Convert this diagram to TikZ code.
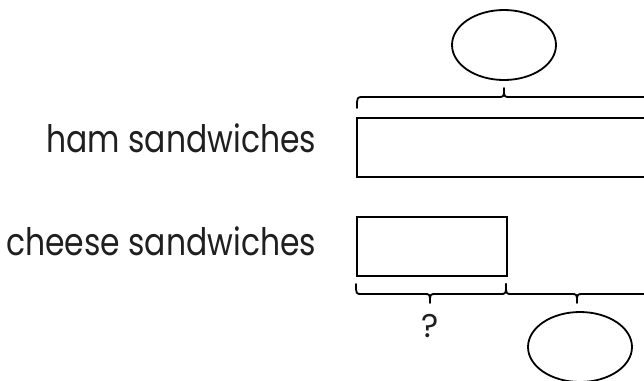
\documentclass[tikz,border=0pt]{standalone}
\usepackage{fontspec}
\setmainfont{Poppins}
\usetikzlibrary{shapes.geometric}
\newcommand{\narrowtext}[1]{\scalebox{0.83}[1]{#1}}
\begin{document}
\begin{tikzpicture}[x=1bp,y=-1bp,
  line width=1.8bp,
  oval/.style={draw, ellipse, minimum width=104bp, minimum height=70bp, inner sep=0pt},
  bar/.style={draw, rectangle, inner sep=0pt, anchor=north west},
  lbl/.style={anchor=base east, inner sep=0pt, font=\fontsize{38}{42}\selectfont, text=black!88},
  brc/.style={line cap=round, line join=round}]
\useasboundingbox (0,0) rectangle (644,380);
\clip (0,0) rectangle (644,380);
% top
\node[oval] (top) at (504,45) {};
\coordinate (t1) at (357,108);
\coordinate (t2) at (651,108);
\draw[brc] (t1) .. controls (357,97) .. (363,97) -- (498,97)
  .. controls (504,97) .. (504,88) .. controls (504,97) .. (510,97) -- (645,97)
  .. controls (651,97) .. (t2);
\node[bar, minimum width=310bp, minimum height=59bp] (ham) at (356,117) {};
\node[lbl] (hamlbl) at (317,152) {\narrowtext{ham sandwiches}};
% bottom
\node[bar, minimum width=150bp, minimum height=59bp] (cheese) at (356,216) {};
\node[lbl] (cheeselbl) at (317,255) {\narrowtext{cheese sandwiches}};
\coordinate (b1) at (356,284);
\coordinate (b2) at (506,284);
\coordinate (b3) at (648,284);
\draw[brc] (b1) .. controls (356,294) .. (362,294) -- (424,294)
  .. controls (430,294) .. (430,303) .. controls (430,294) .. (436,294) -- (500,294)
  .. controls (506,294) .. (b2);
\draw[brc] (b2) .. controls (506,294) .. (512,294) -- (571,294)
  .. controls (577,294) .. (577,303) .. controls (577,294) .. (583,294) -- (642,294)
  .. controls (648,294) .. (b3);
\node[font=\fontsize{33}{36}\selectfont, text=black!88, inner sep=0pt] (q) at (430,326) {?};
\node[oval] (bot) at (580,347) {};
\end{tikzpicture}
\end{document}
